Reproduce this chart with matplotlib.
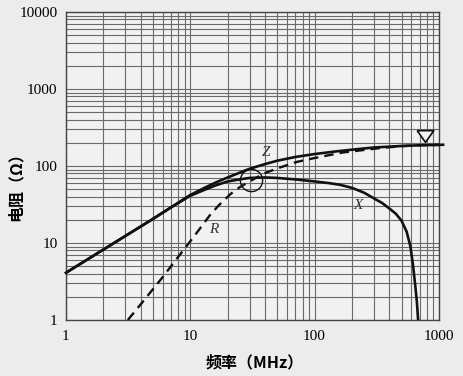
import matplotlib
matplotlib.use('Agg')
import matplotlib.pyplot as plt
from matplotlib.ticker import LogLocator, NullFormatter, FixedLocator, FixedFormatter

# Ferrite bead impedance vs frequency
Z_FREQ = [1, 2, 3, 5, 7, 10, 13, 16, 20, 25, 30, 40, 50, 70, 100, 150, 200,
          300, 500, 700, 1000, 1080]
Z_OHM = [4.1, 8.2, 12.3, 20.5, 29, 42, 52, 61, 71, 82, 92, 106, 117, 131, 143,
         155, 163, 174, 182, 186, 188, 189]

X_FREQ = [1, 2, 3, 5, 7, 10, 13, 16, 20, 25, 30, 40, 50, 70, 100, 130, 160,
          200, 250, 300, 350, 400, 450, 500, 550, 590, 620, 645, 665, 680, 690]
X_OHM = [4.1, 8.2, 12.3, 20.5, 29, 41, 49, 56, 63, 67, 70, 71, 70, 67, 63, 60,
         57, 52, 45, 38, 33, 28, 24, 19.5, 14, 9, 5, 2.8, 1.7, 1.0, 0.8]

R_FREQ = [3.15, 4, 5, 6, 8, 10, 12, 14.4, 17, 21, 25, 30, 38.5, 50, 72, 100,
          133, 170, 245, 350, 500, 700, 1000]
R_OHM = [1.0, 1.6, 2.5, 3.6, 6.6, 10.5, 15.5, 23, 31, 43, 53, 63, 79, 93, 113,
         127, 139, 150, 161, 172, 181, 186, 188]

DECADES_X = [1, 10, 100, 1000]
DECADES_Y = [1, 10, 100, 1000, 10000]

# annotations: curve names, the open triangle and the circled crossover
CURVE_LABELS = [('Z', 41, 150), ('R', 15.5, 15), ('X', 225, 31)]
TRIANGLE_AT = (773, 246)
CIRCLE_AT = (31, 66)

SERIF = 'Liberation Serif'
CJK = ['Noto Sans CJK SC', 'DejaVu Sans']
INK = '#111111'
GRID = '#6a6a6a'

fig = plt.figure(figsize=(4.64, 3.76), dpi=100, facecolor='#ececec')
ax = fig.add_axes([0.142, 0.149, 0.804, 0.819])
ax.set_facecolor('#f1f1f1')
ax.set_xscale('log')
ax.set_yscale('log')
ax.set_xlim(1, 1000)
ax.set_ylim(1, 10000)

# full log grid, majors and minors alike
ax.xaxis.set_major_locator(FixedLocator(DECADES_X))
ax.xaxis.set_major_formatter(FixedFormatter([str(v) for v in DECADES_X]))
ax.yaxis.set_major_locator(FixedLocator(DECADES_Y))
ax.yaxis.set_major_formatter(FixedFormatter([str(v) for v in DECADES_Y]))
for axis in (ax.xaxis, ax.yaxis):
    axis.set_minor_locator(LogLocator(base=10, subs=range(2, 10)))
    axis.set_minor_formatter(NullFormatter())
ax.grid(True, which='both', color=GRID, lw=0.8)
ax.set_axisbelow(True)
ax.tick_params(which='both', length=0)
ax.tick_params(axis='x', pad=7)
ax.tick_params(axis='y', pad=6)
for lab in ax.get_xticklabels() + ax.get_yticklabels():
    lab.set_fontfamily(SERIF)
    lab.set_fontsize(11)
for sp in ax.spines.values():
    sp.set_color('#444444')
    sp.set_linewidth(1.0)

ax.plot(Z_FREQ, Z_OHM, color=INK, lw=1.9, clip_on=False, zorder=4)
ax.plot(X_FREQ, X_OHM, color=INK, lw=1.9, zorder=4)
ax.plot(R_FREQ, R_OHM, color=INK, lw=1.7, ls=(0, (4, 2.6)), zorder=3)

for name, fx, fy in CURVE_LABELS:
    ax.text(fx, fy, name, family=SERIF, style='italic', fontsize=11,
            color='#333333', ha='center', va='center')

tri = [(-1, 0.7), (1, 0.7), (0, -0.7), (-1, 0.7)]
ax.plot([TRIANGLE_AT[0]], [TRIANGLE_AT[1]], marker=tri, ms=12,
        mfc='#f4f4f4', mec=INK, mew=1.2, ls='none', zorder=5)
ax.plot([CIRCLE_AT[0]], [CIRCLE_AT[1]], marker='o', ms=16, mfc='none',
        mec=INK, mew=1.0, ls='none', zorder=5)

fig.text(255 / 464, 1 - 362 / 376, '频率（MHz）', family=CJK, fontsize=11.5,
         fontweight='bold', ha='center', va='center')
fig.text(16 / 464, 1 - 183 / 376, '电阻（Ω）', family=CJK, fontsize=11.5,
         fontweight='bold', rotation=90, ha='center', va='center')

fig.savefig('out.png', dpi=100, facecolor=fig.get_facecolor())
